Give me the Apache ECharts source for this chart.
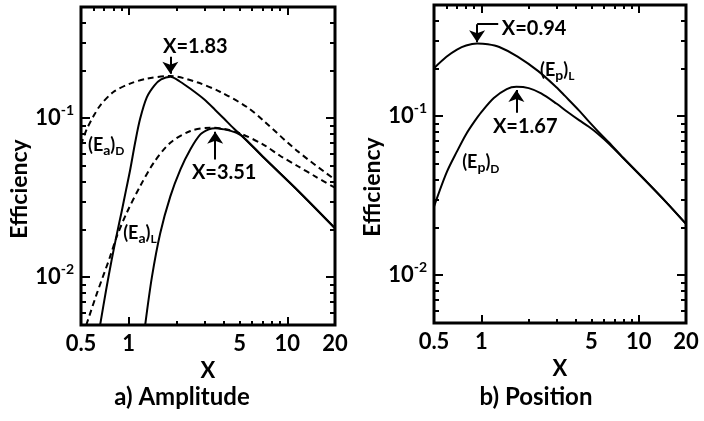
<!DOCTYPE html>
<html>
<head>
<meta charset="utf-8">
<script src="https://cdn.jsdelivr.net/npm/echarts@6/dist/echarts.min.js"></script>
<style>
  html, body { margin: 0; padding: 0; background: #fff; }
  #chart { width: 704px; height: 421px; }
</style>
</head>
<body>
<div id="chart"></div>
<script>
// axis ranges and ticks
let xMin = 0.5, xMax = 20
let yMin = 0.005, yMax = 0.5
let xLabels = [0.5, 1, 5, 10, 20]
let xMajorTicks = [1, 10]
let xMinorBottom = [2, 3, 4, 5, 6, 7, 8, 9]
let xMinorTop = [0.6, 0.7, 0.8, 0.9, 2, 3, 4, 5, 6, 7, 8, 9]
let yLabels = [0.01, 0.1]
let yMajorTicks = [0.01, 0.1]
let yMinorTicks = [0.006, 0.007, 0.008, 0.009, 0.02, 0.03, 0.04, 0.05, 0.06, 0.07, 0.08, 0.09, 0.2, 0.3, 0.4]

// a) Amplitude as [X, efficiency]
let ampSolidD = [[0.66, 0.005], [0.72, 0.0083], [0.78, 0.0128], [0.84, 0.0185], [0.90, 0.0255], [0.96, 0.035],
  [1.02, 0.047], [1.10, 0.071], [1.18, 0.099], [1.30, 0.135], [1.45, 0.160], [1.60, 0.175], [1.83, 0.182],
  [2.1, 0.170], [2.45, 0.153], [3.0, 0.131], [3.5, 0.113], [4.0, 0.099], [4.6, 0.086], [5.2, 0.077],
  [7.1, 0.0565], [11.6, 0.0352], [20, 0.0203]]
let ampSolidL = [[1.27, 0.005], [1.40, 0.010], [1.58, 0.0189], [1.83, 0.0322], [2.12, 0.0476], [2.45, 0.0637],
  [2.83, 0.079], [3.2, 0.085], [3.51, 0.0865], [4.0, 0.085], [4.6, 0.082], [5.2, 0.077], [7.1, 0.0565],
  [11.6, 0.0352], [20, 0.0203]]
let ampDashD = [[0.5, 0.068], [0.543, 0.085], [0.60, 0.103], [0.66, 0.12], [0.80, 0.146], [1.02, 0.165],
  [1.30, 0.177], [1.83, 0.184], [2.7, 0.168], [3.79, 0.146], [5.6, 0.117], [7.1, 0.096], [11.6, 0.062], [20, 0.041]]
let ampDashL = [[0.54, 0.005], [0.63, 0.0079], [0.764, 0.0135], [0.84, 0.018], [0.97, 0.0253], [1.18, 0.0373],
  [1.44, 0.0525], [1.83, 0.070], [2.45, 0.083], [3.27, 0.087], [4.0, 0.0855], [5.07, 0.080], [7.1, 0.068],
  [9, 0.058], [11.6, 0.050], [15, 0.043], [20, 0.0365]]

// b) Position
let posL = [[0.5, 0.200], [0.6, 0.236], [0.7, 0.262], [0.8, 0.278], [0.94, 0.286], [1.1, 0.283], [1.3, 0.272],
  [1.7, 0.237], [2.3, 0.192], [3.0, 0.152], [3.4, 0.134], [4.2, 0.108], [4.8, 0.093], [5.5, 0.0805],
  [6.5, 0.068], [8, 0.0545], [11, 0.0395], [15, 0.0287], [20, 0.021]]
let posD = [[0.5, 0.027], [0.6, 0.044], [0.7, 0.060], [0.8, 0.077], [0.9, 0.092], [1.0, 0.106], [1.2, 0.130],
  [1.45, 0.148], [1.67, 0.153], [2.0, 0.150], [2.4, 0.139], [3.0, 0.120], [3.5, 0.107], [4.2, 0.094],
  [4.8, 0.086], [5.5, 0.0775], [6.5, 0.0668], [8, 0.0543], [11, 0.0395], [15, 0.0287], [20, 0.021]]

let font = 'Lato'
let black = '#000'

let txt = (size) => ({ color: black, fontFamily: font, fontWeight: 'bold', fontSize: size })

let fmtX = (v) => String(+(+v).toPrecision(3))
let fmtY = (v) => '{a|10}{b|' + Math.round(Math.log10(v)) + '}'

let tick = (len, values) => ({ show: true, inside: true, length: len, customValues: values, lineStyle: { color: black, width: 2 } })

function xAxes (grid) {
  let base = { type: 'log', logBase: 10, min: xMin, max: xMax, gridIndex: grid, splitLine: { show: false }, axisLine: { show: false } }
  return [
    Object.assign({}, base, {
      position: 'bottom', axisTick: tick(8, xMajorTicks),
      axisLabel: Object.assign(txt(22), { customValues: xLabels, formatter: fmtX, margin: 8 }),
      name: 'X', nameLocation: 'middle', nameGap: 31, nameTextStyle: txt(22)
    }),
    Object.assign({}, base, { position: 'bottom', axisTick: tick(4, xMinorBottom), axisLabel: { show: false } }),
    Object.assign({}, base, { position: 'top', axisTick: tick(8, xMajorTicks), axisLabel: { show: false } }),
    Object.assign({}, base, { position: 'top', axisTick: tick(4, xMinorTop), axisLabel: { show: false } })
  ]
}

function yAxes (grid) {
  let base = { type: 'log', logBase: 10, min: yMin, max: yMax, gridIndex: grid, splitLine: { show: false }, axisLine: { show: false } }
  return [
    Object.assign({}, base, {
      position: 'left', axisTick: tick(9, yMajorTicks),
      axisLabel: {
        customValues: yLabels, formatter: fmtY, margin: 7,
        rich: {
          a: Object.assign(txt(22), { lineHeight: 30 }),
          b: Object.assign(txt(14), { verticalAlign: 'top', lineHeight: 14 })
        }
      },
      name: 'Efficiency', nameLocation: 'middle', nameGap: 50,
      nameTextStyle: Object.assign(txt(23), { padding: [0, 46, 0, 0] })
    }),
    Object.assign({}, base, { position: 'left', axisTick: tick(5, yMinorTicks), axisLabel: { show: false } }),
    Object.assign({}, base, { position: 'right', axisTick: tick(9, yMajorTicks), axisLabel: { show: false } }),
    Object.assign({}, base, { position: 'right', axisTick: tick(5, yMinorTicks), axisLabel: { show: false } })
  ]
}

let subRich = {
  s: Object.assign(txt(14), { verticalAlign: 'bottom', lineHeight: 19 }),
  sub: Object.assign(txt(12), { verticalAlign: 'bottom', lineHeight: 14 }),
  m: Object.assign(txt(18), { lineHeight: 24 })
}

function textMark (coord, text, pos) {
  return {
    coord: coord, symbolSize: 0,
    label: Object.assign(txt(20), { show: true, position: pos, distance: 0, formatter: text, rich: subRich })
  }
}

function arrow (from, to, head) {
  return [{ coord: from, symbol: 'none' }, { coord: to, symbol: head ? 'arrow' : 'none' }]
}

let markLineBase = { silent: true, symbolSize: 12, label: { show: false }, lineStyle: { color: black, width: 2, type: 'solid' } }

function line (data, grid, dashed, extra) {
  return Object.assign({
    type: 'line', data: data, xAxisIndex: grid * 4, yAxisIndex: grid * 4,
    smooth: 0.3, showSymbol: false, symbol: 'none', silent: true, clip: true,
    lineStyle: { color: black, width: 2, type: dashed ? [6, 4] : 'solid' }
  }, extra || {})
}

let titleFont = 'bold 24px Lato'

let myChart = echarts.init(document.getElementById('chart'))
myChart.setOption({
  animation: false,
  backgroundColor: '#fff',
  grid: [
    { left: 81, top: 7, width: 254, height: 318, show: true, borderColor: black, borderWidth: 3 },
    { left: 434, top: 5, width: 252, height: 318, show: true, borderColor: black, borderWidth: 3 }
  ],
  xAxis: xAxes(0).concat(xAxes(1)),
  yAxis: yAxes(0).concat(yAxes(1)),
  graphic: [
    { type: 'text', style: { text: 'a) Amplitude', x: 182, y: 397, align: 'center', verticalAlign: 'middle', fill: black, font: titleFont } },
    { type: 'text', style: { text: 'b) Position', x: 536, y: 397, align: 'center', verticalAlign: 'middle', fill: black, font: titleFont } }
  ],
  series: [
    line(ampDashD, 0, true),
    line(ampDashL, 0, true),
    line(ampSolidL, 0, false),
    line(ampSolidD, 0, false, {
      markLine: Object.assign({}, markLineBase, {
        data: [arrow([1.83, 0.243], [1.83, 0.19], true), arrow([3.51, 0.055], [3.51, 0.082], true)]
      }),
      markPoint: {
        silent: true,
        data: [
          textMark([2.63, 0.281], 'X=1.83', 'inside'),
          textMark([4.0, 0.0455], 'X=3.51', 'inside'),
          textMark([0.553, 0.0675], '{m|(E}{s|a}{m|)}{sub|D}', 'right'),
          textMark([0.922, 0.0188], '{m|(E}{s|a}{m|)}{sub|L}', 'right')
        ]
      }
    }),
    line(posD, 1, false),
    line(posL, 1, false, {
      markLine: Object.assign({}, markLineBase, {
        data: [
          arrow([1.28, 0.379], [0.94, 0.379], false),
          arrow([0.94, 0.379], [0.94, 0.292], true),
          arrow([1.67, 0.105], [1.67, 0.146], true)
        ]
      }),
      markPoint: {
        silent: true,
        data: [
          textMark([1.35, 0.353], 'X=0.94', 'right'),
          textMark([1.90, 0.0855], 'X=1.67', 'inside'),
          textMark([2.36, 0.194], '{m|(E}{s|p}{m|)}{sub|L}', 'right'),
          textMark([0.755, 0.051], '{m|(E}{s|p}{m|)}{sub|D}', 'right')
        ]
      }
    })
  ]
})
</script>
</body>
</html>
